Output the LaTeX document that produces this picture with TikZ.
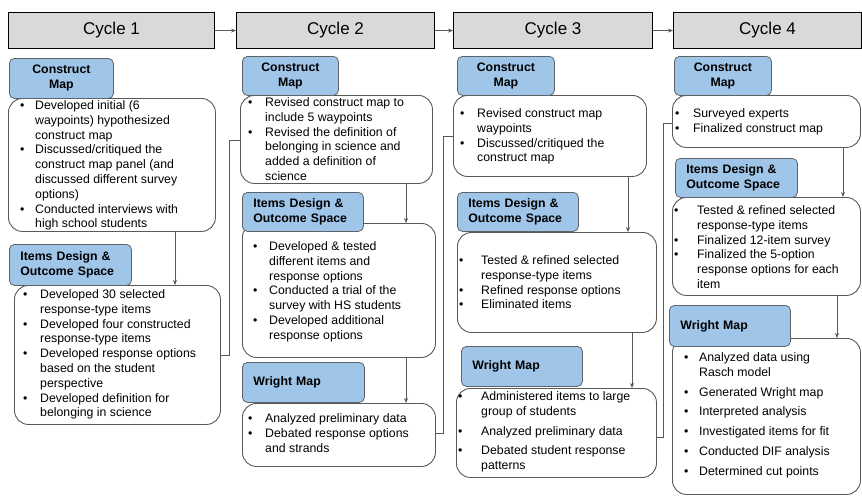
\documentclass[tikz,border=0pt]{standalone}
\usepackage{fontspec}
\setmainfont{Liberation Sans}
\usetikzlibrary{arrows.meta}
\definecolor{hdrgray}{HTML}{D9D9D9}
\definecolor{lblblue}{HTML}{9FC5E8}
\definecolor{lblborder}{HTML}{5F6368}
\definecolor{bodyborder}{HTML}{595959}
\definecolor{linegray}{HTML}{595959}
\newlength\bgap
\newcommand\bl{\llap{\textbullet\hspace{\dimexpr\bgap-2.2pt\relax}}}
\tikzset{
 hdr/.style={draw=black, line width=1.1pt, fill=hdrgray, inner sep=0pt, anchor=north west, font=\fontsize{17}{20}\selectfont},
 lbl/.style={draw=lblborder, line width=0.8pt, fill=lblblue, rounded corners=5pt, inner ysep=0pt, inner xsep=11pt, anchor=north west, font=\bfseries\fontsize{12.3}{15}\selectfont},
 bodybox/.style={draw=bodyborder, line width=0.9pt, fill=white, rounded corners=14pt, inner sep=0pt, anchor=north west},
 bodytext/.style={inner sep=0pt, anchor=base west, font=\fontsize{12.3}{14.8}\selectfont},
 arr/.style={draw=linegray, line width=0.7pt, -{Stealth[length=5pt,width=4pt]}},
 conn/.style={draw=linegray, line width=0.7pt},
}
\begin{document}
\begin{tikzpicture}[x=1pt,y=-1pt]
\useasboundingbox (0,0) rectangle (862,496);
% headers
\node[hdr, minimum width=206pt, minimum height=36pt] (h1) at (8,12) {Cycle 1};
\node[hdr, minimum width=198pt, minimum height=36pt] (h2) at (236,12) {Cycle 2};
\node[hdr, minimum width=199pt, minimum height=36pt] (h3) at (453,12) {Cycle 3};
\node[hdr, minimum width=188pt, minimum height=36pt] (h4) at (673,12) {Cycle 4};
\draw[arr] (h1.east) -- (h2.west);
\draw[arr] (h2.east) -- (h3.west);
\draw[arr] (h3.east) -- (h4.west);
% body boxes
\node[bodybox, minimum width=207pt, minimum height=133pt] (c1b) at (8,98) {};
\node[bodybox, minimum width=206pt, minimum height=139pt] (i1b) at (14,285) {};
\node[bodybox, minimum width=192pt, minimum height=88pt] (c2b) at (240,95) {};
\node[bodybox, minimum width=193pt, minimum height=134pt] (i2b) at (242,223) {};
\node[bodybox, minimum width=193pt, minimum height=63pt] (w2b) at (242,403) {};
\node[bodybox, minimum width=193pt, minimum height=81pt] (c3b) at (453,95) {};
\node[bodybox, minimum width=199pt, minimum height=100pt] (i3b) at (457,232) {};
\node[bodybox, minimum width=200pt, minimum height=89pt] (w3b) at (456,388) {};
\node[bodybox, minimum width=188pt, minimum height=52pt] (c4b) at (672,95) {};
\node[bodybox, minimum width=188pt, minimum height=98pt] (i4b) at (672,197) {};
\node[bodybox, minimum width=188pt, minimum height=156pt] (w4b) at (672,338) {};
% labels
\node[lbl, align=center, text width=82pt, minimum height=40pt] (c1l) at (9,58) {Construct\\Map};
\node[lbl, align=left, text width=100pt, minimum height=41pt] (i1l) at (9,244) {Items Design \&\\Outcome Space};
\node[lbl, align=center, text width=74pt, minimum height=39pt] (c2l) at (242,56) {Construct\\Map};
\node[lbl, align=left, text width=99pt, minimum height=39pt] (i2l) at (242,192) {Items Design \&\\Outcome Space};
\node[lbl, align=left, text width=100pt, minimum height=40pt] (w2l) at (242,362) {Wright Map};
\node[lbl, align=center, text width=75pt, minimum height=39pt] (c3l) at (457,56) {Construct\\Map};
\node[lbl, align=left, text width=99pt, minimum height=39pt] (i3l) at (457,192) {Items Design \&\\Outcome Space};
\node[lbl, align=left, text width=99pt, minimum height=40pt] (w3l) at (461,346) {Wright Map};
\node[lbl, align=center, text width=75pt, minimum height=39pt] (c4l) at (674,56) {Construct\\Map};
\node[lbl, align=left, text width=100pt, minimum height=39pt] (i4l) at (675,158) {Items Design \&\\Outcome Space};
\node[lbl, align=left, text width=99pt, minimum height=41pt] (w4l) at (669,305) {Wright Map};
% body texts
\node[bodytext] (c1t) at (35,109.5) {\setlength\bgap{13pt}\begin{tabular}[t]{@{}l@{}}
\bl Developed initial (6\\ waypoints) hypothesized\\ construct map\\
\bl Discussed/critiqued the\\ construct map panel (and\\ discussed different survey\\ options)\\
\bl Conducted interviews with\\ high school students\end{tabular}};
\node[bodytext] (i1t) at (40,298.5) {\setlength\bgap{15pt}\begin{tabular}[t]{@{}l@{}}
\bl Developed 30 selected\\ response-type items\\
\bl Developed four constructed\\ response-type items\\
\bl Developed response options\\ based on the student\\ perspective\\
\bl Developed definition for\\ belonging in science\end{tabular}};
\node[bodytext] (c2t) at (265,106.5) {\setlength\bgap{15pt}\begin{tabular}[t]{@{}l@{}}
\bl Revised construct map to\\ include 5 waypoints\\
\bl Revised the definition of\\ belonging in science and\\ added a definition of\\ science\end{tabular}};
\node[bodytext] (i2t) at (269,250.5) {\setlength\bgap{14pt}\begin{tabular}[t]{@{}l@{}}
\bl Developed \& tested\\ different items and\\ response options\\
\bl Conducted a trial of the\\ survey with HS students\\
\bl Developed additional\\ response options\end{tabular}};
\node[bodytext] (w2t) at (265,422.5) {\setlength\bgap{15pt}\begin{tabular}[t]{@{}l@{}}
\bl Analyzed preliminary data\\
\bl Debated response options\\ and strands\end{tabular}};
\node[bodytext] (c3t) at (477,117.5) {\setlength\bgap{15pt}\begin{tabular}[t]{@{}l@{}}
\bl Revised construct map\\ waypoints\\
\bl Discussed/critiqued the\\ construct map\end{tabular}};
\node[bodytext] (i3t) at (481,264.5) {\setlength\bgap{20pt}\begin{tabular}[t]{@{}l@{}}
\bl Tested \& refined selected\\ response-type items\\
\bl Refined response options\\
\bl Eliminated items\end{tabular}};
\node[bodytext] (w3t) at (481,400.5) {\setlength\bgap{21pt}\begin{tabular}[t]{@{}l@{}}
\bl Administered items to large\\ group of students\\[5pt]
\bl Analyzed preliminary data\\[5pt]
\bl Debated student response\\ patterns\end{tabular}};
\node[bodytext] (c4t) at (693,117.5) {\setlength\bgap{16pt}\begin{tabular}[t]{@{}l@{}}
\bl Surveyed experts\\
\bl Finalized construct map\end{tabular}};
\node[bodytext] (i4t) at (697,214.5) {\setlength\bgap{21pt}\begin{tabular}[t]{@{}l@{}}
\bl Tested \& refined selected\\ response-type items\\
\bl Finalized 12-item survey\\
\bl Finalized the 5-option\\ response options for each\\ item\end{tabular}};
\node[bodytext] (w4t) at (699,361.5) {\setlength\bgap{13pt}\begin{tabular}[t]{@{}l@{}}
\bl Analyzed data using\\ Rasch model\\[5pt]
\bl Generated Wright map\\[5pt]
\bl Interpreted analysis\\[5pt]
\bl Investigated items for fit\\[5pt]
\bl Conducted DIF analysis\\[5pt]
\bl Determined cut points\end{tabular}};
% vertical arrows
\draw[arr] (c1b.south -| 175,0) -- (i1b.north -| 175,0);
\draw[arr] (c2b.south -| 406,0) -- (i2b.north -| 406,0);
\draw[arr] (i2b.south -| 406,0) -- (w2b.north -| 406,0);
\draw[arr] (c3b.south -| 628,0) -- (i3b.north -| 628,0);
\draw[arr] (i3b.south -| 632,0) -- (w3b.north -| 632,0);
\draw[arr] (c4b.south -| 843,0) -- (i4b.north -| 843,0);
\draw[arr] (i4b.south -| 837,0) -- (w4b.north -| 837,0);
% return connectors
\draw[conn] (i1b.east |- 0,355) -- (229,355) -- (229,140) -- (c2b.west |- 0,140);
\draw[conn] (w2b.east |- 0,433) -- (443,433) -- (443,136) -- (c3b.west |- 0,136);
\draw[conn] (w3b.east |- 0,437) -- (663,437) -- (663,123) -- (c4b.west |- 0,123);
\end{tikzpicture}
\end{document}
